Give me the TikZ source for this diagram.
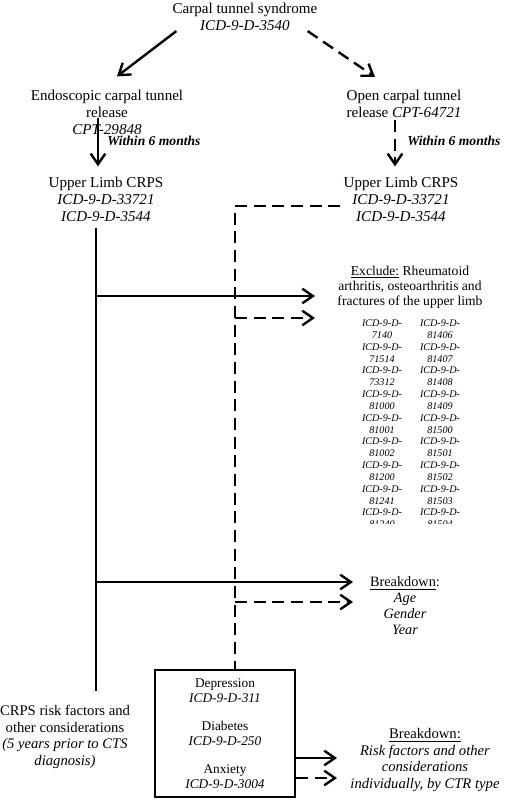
\documentclass[tikz,border=0pt]{standalone}
\usepackage{fontspec}
\setmainfont{Liberation Serif}
\usetikzlibrary{arrows.meta, calc}

\begin{document}
\begin{tikzpicture}[x=0.75pt,y=-0.75pt,
  txt/.style={align=center, inner sep=0pt, font=\fontsize{11.3}{12.8}\selectfont},
  sml/.style={align=center, inner sep=0pt, font=\fontsize{10.2}{11.4}\selectfont},
  code/.style={align=center, inner sep=0pt, font=\fontsize{7.6}{9}\selectfont\itshape},
  ln/.style={line width=1.8pt},
  dln/.style={ln, dash pattern=on 9pt off 5pt},
  solidarr/.style={ln, -{Straight Barb[length=8pt,width=11pt]}},
  dasharr/.style={dln, -{Straight Barb[length=8pt,width=11pt]}}]
\useasboundingbox (0,0) rectangle (504,800);

\node[txt] (cts) at (245,17) {Carpal tunnel syndrome\\\textit{ICD-9-D-3540}};
\node[txt] (ectr) at (107,112) {Endoscopic carpal tunnel\\release\\\textit{CPT-29848}};
\node[txt] (octr) at (404,104) {Open carpal tunnel\\release \textit{CPT-64721}};
\node[sml, anchor=west] (win1) at (107,141) {\bfseries\itshape Within 6 months};
\node[sml, anchor=west] (win2) at (407,141) {\bfseries\itshape Within 6 months};
\node[txt] (crpsl) at (106,199) {Upper Limb CRPS\\\textit{ICD-9-D-33721}\\\textit{ICD-9-D-3544}};
\node[txt] (crpsr) at (401,199) {Upper Limb CRPS\\\textit{ICD-9-D-33721}\\\textit{ICD-9-D-3544}};
\node[sml] (excl) at (410,287) {\underline{Exclude:} Rheumatoid\\arthritis, osteoarthritis and\\fractures of the upper limb};
\node[sml, font=\fontsize{10.7}{12}\selectfont] (bdy) at (405,606) {\underline{Breakdown}:\\\textit{Age}\\\textit{Gender}\\\textit{Year}};
\node[draw, ln, minimum width=105pt, minimum height=95.25pt, inner sep=0pt, align=center,
  font=\fontsize{10}{11.25}\selectfont] (riskbox) at (225,733.5)
  {Depression\\\textit{ICD-9-D-311}\\[9.5pt]Diabetes\\\textit{ICD-9-D-250}\\[9.5pt]Anxiety\\\textit{ICD-9-D-3004}};
\node[txt, font=\fontsize{11}{12.4}\selectfont] (risk) at (65,737) {CRPS risk factors and\\other considerations\\\textit{(5 years prior to CTS}\\\textit{diagnosis)}};
\node[txt, font=\fontsize{11}{12.4}\selectfont] (bdr) at (425,760) {\underline{Breakdown:}\\\textit{Risk factors and other}\\\textit{considerations}\\\textit{individually, by CTR type}};

\begin{scope}
\clip (330,310) rectangle (480,523);
\foreach \a/\b [count=\i from 0] in {7140/81406,71514/81407,73312/81408,81000/81409,81001/81500,81002/81501,81200/81502,81241/81503,81240/81504}{
  \node[code] (ca\i) at (382,{329+23.7*\i}) {ICD-9-D-\\\a};
  \node[code] (cb\i) at (440,{329+23.7*\i}) {ICD-9-D-\\\b};
}
\end{scope}

\coordinate (dtop) at (235,206);
\coordinate (t1) at (315,296);
\coordinate (t2) at (315,318);
\coordinate (t3) at (353,582);
\coordinate (t4) at (353,602);
\coordinate (t5) at (337,758);
\coordinate (t6) at (337,778);

\draw[solidarr] ($(cts.south west)+(4,0)$) -- ($(ectr.north)+(10,-13)$);
\draw[dasharr] ($(cts.south east)+(-10,0)$) -- ($(octr.north)+(-29,-13)$);
\draw[solidarr] ($(ectr.south)+(-9,-17)$) -- ($(crpsl.north)+(-8,-10)$);
\draw[dasharr] ($(octr.south)+(-9,2)$) -- ($(crpsr.north)+(-6,-10)$);

\draw[ln] ($(crpsl.south)+(-10,6)$) -- ($(crpsl.south |- risk.north)+(-10,-14)$);
\draw[solidarr] ($(crpsl.south |- t1)+(-10,0)$) -- (t1);
\draw[solidarr] ($(crpsl.south |- t3)+(-10,0)$) -- (t3);

\draw[dln] ($(crpsr.west)+(-3,7)$) -- (dtop) -- (dtop |- riskbox.north);
\draw[dasharr] (dtop |- t2) -- (t2);
\draw[dasharr] (dtop |- t4) -- (t4);

\draw[solidarr] (riskbox.east |- t5) -- (t5);
\draw[dasharr] (riskbox.east |- t6) -- (t6);
\end{tikzpicture}
\end{document}
